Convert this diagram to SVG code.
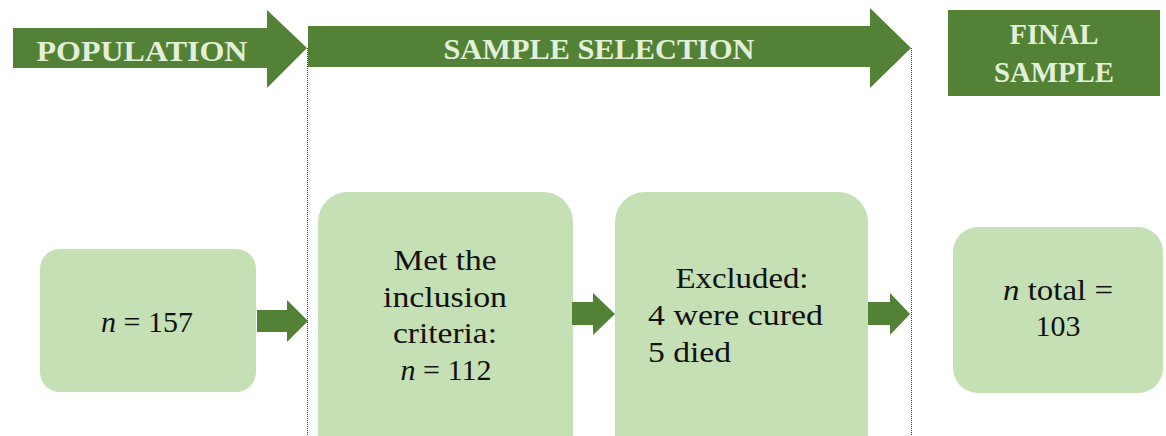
<svg xmlns="http://www.w3.org/2000/svg" width="1166" height="436" viewBox="0 0 1166 436">
  <style>
    .band { fill: #538135; }
    .hdr { font-family: 'Liberation Serif', 'Times New Roman', serif; font-weight: bold; font-size: 30px; fill: #e2efd9; text-anchor: middle; }
    .box { fill: #c5e0b4; }
    .txt { font-family: 'Liberation Serif', 'Times New Roman', serif; font-size: 30px; fill: #111111; }
    .mid { text-anchor: middle; }
    .it { font-style: italic; }
    .sep { stroke: #3a3a3a; stroke-width: 1; stroke-dasharray: 1 1; fill: none; }
    .arr { fill: #538135; }
  </style>

  <g id="separators">
    <line class="sep" x1="307.5" y1="48" x2="307.5" y2="436"/>
    <line class="sep" x1="911.5" y1="48" x2="911.5" y2="436"/>
  </g>

  <g id="header-population">
    <polygon class="band" points="13,28 267,28 267,10 307,48 267,88 267,68 13,68"/>
    <text class="hdr" x="142" y="61" textLength="211" lengthAdjust="spacingAndGlyphs">POPULATION</text>
  </g>

  <g id="header-sample-selection">
    <polygon class="band" points="308,26 870,26 870,8 911,48 870,88 870,67 308,67"/>
    <text class="hdr" x="599" y="59" textLength="311" lengthAdjust="spacingAndGlyphs">SAMPLE SELECTION</text>
  </g>

  <g id="header-final-sample">
    <rect class="band" x="948" y="10" width="212" height="86"/>
    <text class="hdr" x="1054" y="44" textLength="89" lengthAdjust="spacingAndGlyphs">FINAL</text>
    <text class="hdr" x="1054" y="82" textLength="120" lengthAdjust="spacingAndGlyphs">SAMPLE</text>
  </g>

  <g id="node-population">
    <rect class="box" x="40" y="249" width="216" height="143" rx="20" ry="20"/>
    <text class="txt mid" x="147" y="332"><tspan class="it">n</tspan> = 157</text>
  </g>

  <g id="node-inclusion">
    <rect class="box" x="318" y="192" width="255" height="274" rx="30" ry="30"/>
    <text class="txt mid" x="445" y="270" textLength="103" lengthAdjust="spacingAndGlyphs">Met the</text>
    <text class="txt mid" x="445" y="307" textLength="124" lengthAdjust="spacingAndGlyphs">inclusion</text>
    <text class="txt mid" x="445" y="343" textLength="104" lengthAdjust="spacingAndGlyphs">criteria:</text>
    <text class="txt mid" x="446" y="380"><tspan class="it">n</tspan> = 112</text>
  </g>

  <g id="node-excluded">
    <rect class="box" x="615" y="192" width="253" height="274" rx="30" ry="30"/>
    <text class="txt mid" x="742" y="288" textLength="133" lengthAdjust="spacingAndGlyphs">Excluded:</text>
    <text class="txt" x="648" y="325" textLength="175" lengthAdjust="spacingAndGlyphs">4 were cured</text>
    <text class="txt" x="648" y="362" textLength="83" lengthAdjust="spacingAndGlyphs">5 died</text>
  </g>

  <g id="node-final">
    <rect class="box" x="953" y="227" width="210" height="166" rx="25" ry="25"/>
    <text class="txt mid" x="1058" y="300" textLength="110" lengthAdjust="spacingAndGlyphs"><tspan class="it">n</tspan> total =</text>
    <text class="txt mid" x="1058" y="336">103</text>
  </g>

  <g id="connectors">
    <polygon class="arr" points="257,310 287,310 287,300 308,321 287,342 287,332 257,332"/>
    <polygon class="arr" points="572,302 593,302 593,293 615,314 593,335 593,325 572,325"/>
    <polygon class="arr" points="868,302 890,302 890,293 910,314 890,335 890,325 868,325"/>
  </g>
</svg>
